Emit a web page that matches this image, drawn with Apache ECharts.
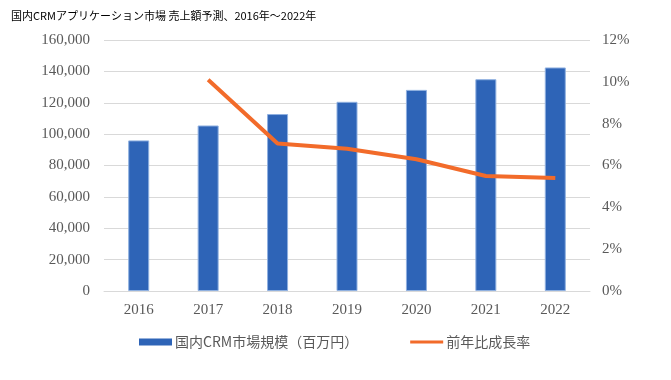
<!DOCTYPE html>
<html><head><meta charset="utf-8">
<script src="https://cdn.jsdelivr.net/npm/echarts@6/dist/echarts.min.js"></script>
<style>html,body{margin:0;padding:0;background:#fff}#c{width:671px;height:380px}</style>
</head><body><div id="c"></div>
<script>
const titleText = '国内CRMアプリケーション市場 売上額予測、2016年～2022年';
const categories = ['2016','2017','2018','2019','2020','2021','2022'];
const marketSize = [96000, 105500, 112800, 120600, 128200, 135000, 142500];
const growthRate = [null, 10.1, 7.05, 6.8, 6.3, 5.5, 5.4];
const barName = '国内CRM市場規模（百万円）';
const lineName = '前年比成長率';

const chart = echarts.init(document.getElementById('c'));
const serif = '"Liberation Serif","DejaVu Serif",serif';
chart.setOption({
  animation:false,
  title:{text:titleText,left:6,top:5,textStyle:{fontSize:11,fontWeight:'normal',color:'#000',fontFamily:'"Noto Sans CJK JP",sans-serif'}},
  grid:{left:104,right:81,top:40,bottom:89,containLabel:false},
  legend:{top:330,left:134,itemGap:52,itemWidth:33,itemHeight:7,
    textStyle:{fontSize:14,color:'#595959',fontFamily:'"Noto Sans CJK JP",sans-serif',padding:[0,0,0,-2]},
    data:[{name:barName,icon:'rect',itemStyle:{borderWidth:0}},
          {name:lineName,icon:'path://M0,0 L0.01,0 Z M0,2 L33,2 L33,5 L0,5 Z M32.99,7 L33,7 Z'}]},
  xAxis:{type:'category',data:categories,
    axisLine:{lineStyle:{color:'#d9d9d9'}},axisTick:{show:false},
    axisLabel:{color:'#595959',fontSize:15,fontFamily:serif,margin:12}},
  yAxis:[{type:'value',min:0,max:160000,interval:20000,
    axisLine:{show:false},axisTick:{show:false},
    splitLine:{lineStyle:{color:'#d9d9d9',width:1}},
    axisLabel:{color:'#595959',fontSize:15,fontFamily:serif,margin:14,
      formatter:v=>v.toLocaleString('en-US')}},
   {type:'value',min:0,max:12,interval:2,position:'right',
    axisLine:{show:false},axisTick:{show:false},splitLine:{show:false},
    axisLabel:{color:'#595959',fontSize:15,fontFamily:serif,margin:12,formatter:'{value}%'}}],
  series:[{name:barName,type:'bar',data:marketSize,barWidth:21,
    itemStyle:{color:'#2e64b7',borderColor:'#8fb0e0',borderWidth:1}},
   {name:lineName,type:'line',yAxisIndex:1,data:growthRate,symbol:'none',
    lineStyle:{color:'#f26b2a',width:4},itemStyle:{color:'#f26b2a'}}]
});
</script></body></html>
